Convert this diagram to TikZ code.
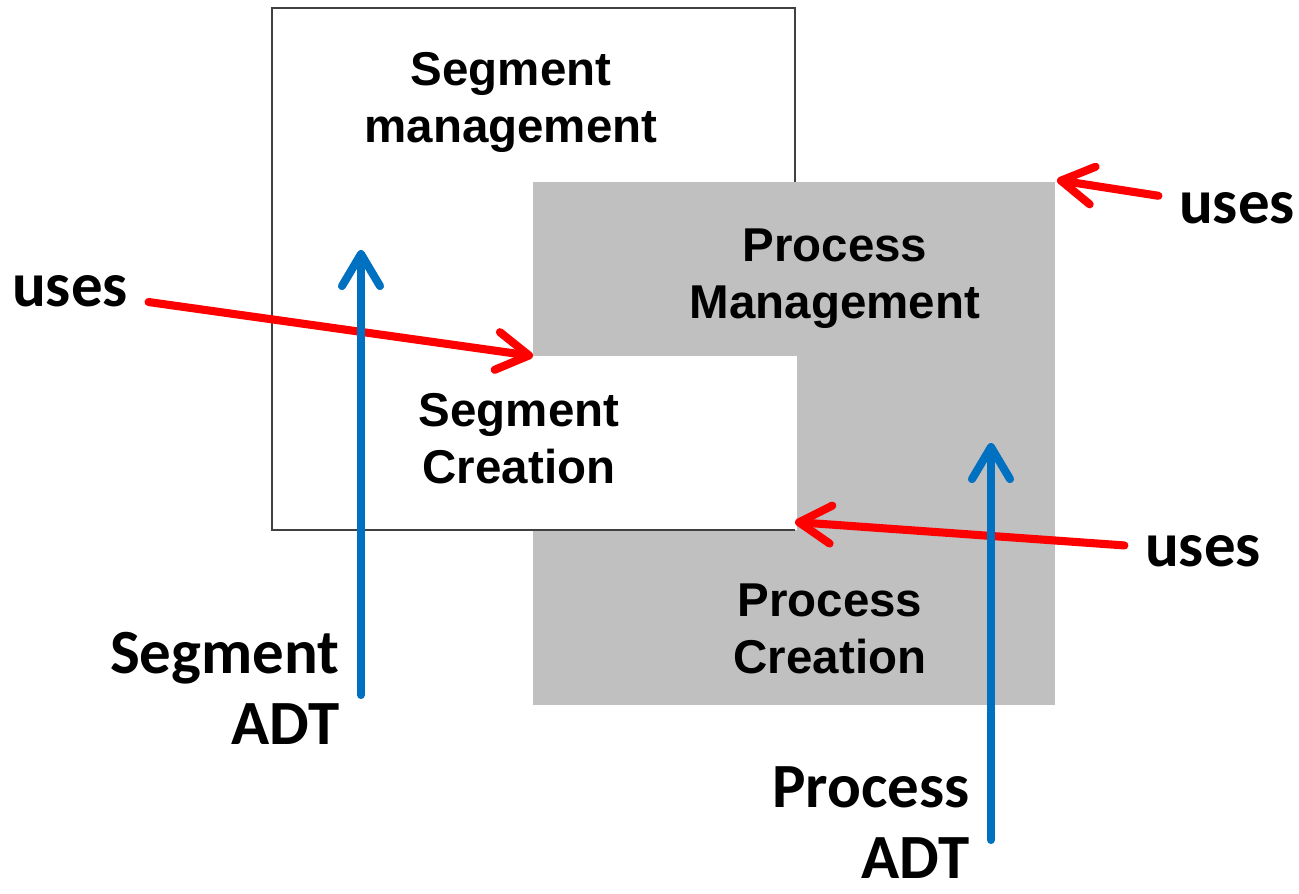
\documentclass[tikz,border=0pt]{standalone}
\usepackage{fontspec}
\setmainfont{Liberation Sans}
\newfontfamily\carlito{Carlito}
\usetikzlibrary{arrows.meta}
\definecolor{boxgray}{RGB}{192,192,192}
\definecolor{edgegray}{RGB}{64,64,64}
\definecolor{usesred}{RGB}{255,0,0}
\definecolor{adtblue}{RGB}{0,112,192}
\tikzset{
  modtext/.style={font=\fontsize{13.5}{16.2}\selectfont\bfseries,align=center,inner sep=0pt},
  usestext/.style={font=\carlito\fontsize{17.9}{20.2}\selectfont\bfseries,inner xsep=0.2cm,inner ysep=0pt},
  adttext/.style={font=\carlito\fontsize{17.9}{20.2}\selectfont\bfseries,align=right,inner sep=0pt,anchor=east},
  usesarrow/.style={draw=usesred,line width=2.3pt,line cap=round,-{Straight Barb[length=0.32cm,width=0.38cm,round]}},
  adtarrow/.style={draw=adtblue,line width=2.3pt,line cap=round,-{Straight Barb[length=0.32cm,width=0.38cm,round]}},
}

\begin{document}
\begin{tikzpicture}[x=0.01cm,y=-0.01cm]
\useasboundingbox (0,0) rectangle (1299,893);
% the two modules, one sitting in the other
\draw[edgegray,line width=0.6pt,fill=white] (272,8) rectangle (795,530);
\fill[boxgray] (533,182) rectangle (1055,705);
\fill[white] (533,356) rectangle (797,530);
\draw[edgegray,line width=0.6pt] (533,530) -- (795,530);
\coordinate (segcorner) at (533,356);
\coordinate (proccorner) at (1057,180);
\coordinate (segbottom) at (795,522);
\coordinate (segfoot) at (361,695);
\coordinate (seghead) at (361,250);
\coordinate (procfoot) at (991,840);
\coordinate (prochead) at (991,443);
\node[modtext] (segmgmt) at (511,102) {Segment\\management};
\node[modtext] (procmgmt) at (835,279) {Process\\Management};
\node[modtext] (segcreate) at (519,439) {Segment\\Creation};
\node[modtext] (proccreate) at (830,629) {Process\\Creation};
% who uses what
\node[usestext] (usesleft) at (70,291) {uses};
\node[usestext] (usestop) at (1237,208) {uses};
\node[usestext] (usesright) at (1203,551) {uses};
\draw[usesarrow] (usesleft) -- (segcorner);
\draw[usesarrow] (usestop) -- (proccorner);
\draw[usesarrow] (usesright) -- (segbottom);
% the ADTs
\node[adttext] (segadt) at (340,688) {Segment\\ADT};
\node[adttext] (procadt) at (970,823) {Process\\ADT};
\draw[adtarrow] (segfoot) -- (seghead);
\draw[adtarrow] (procfoot) -- (prochead);
\end{tikzpicture}
\end{document}
